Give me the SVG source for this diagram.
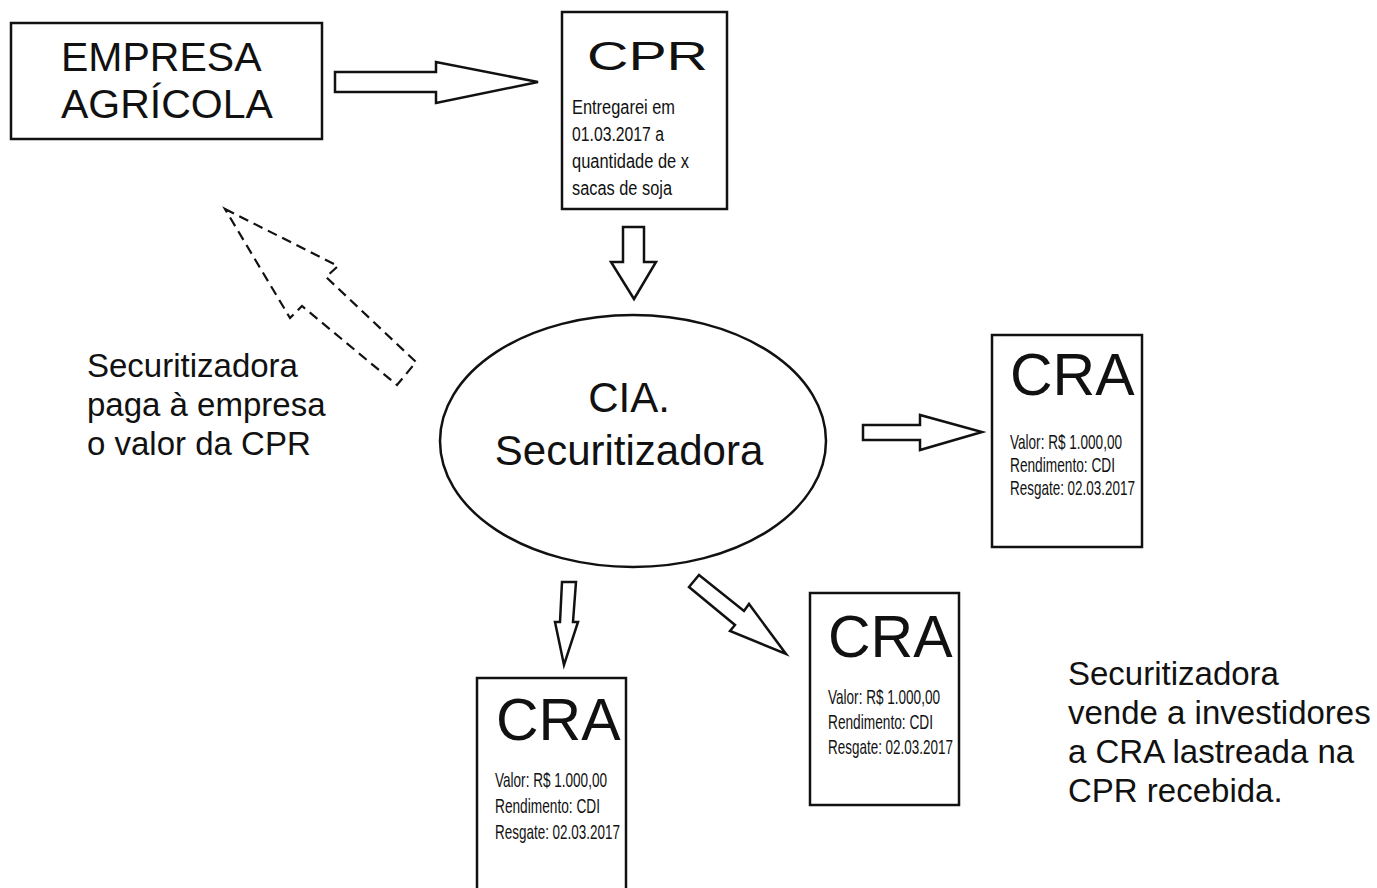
<svg xmlns="http://www.w3.org/2000/svg" width="1377" height="888" viewBox="0 0 1377 888">
  <style>
    .box { fill: #fff; stroke: #111; stroke-width: 2.5; }
    .arrow { fill: #fff; stroke: #111; stroke-width: 2.5; stroke-linejoin: miter; }
    .dashed { fill: none; stroke: #111; stroke-width: 2.2; stroke-dasharray: 10 6; }
    text { font-family: "Liberation Sans", Arial, sans-serif; fill: #111; }
    .big { font-size: 41px; }
    .cia { font-size: 42px; text-anchor: middle; }
    .note { font-size: 33px; }
    .cra { font-size: 59px; }
    .cpr { font-size: 40px; }
    .small { font-size: 21px; }
    .body { font-size: 20px; }
  </style>
  <rect width="1377" height="888" fill="#fff"/>

  <!-- connectors -->
  <g id="connectors">
    <polygon class="arrow" points="335,72 436,72 436,62 538,82 436,103 436,92 335,92"/>
    <polygon class="arrow" points="623,227 644,227 644,262 656,262 634,299 611,262 623,262"/>
    <polygon class="arrow" points="863,425 920,425 920,415 982,432 920,450 920,440 863,440"/>
    <polygon class="arrow" points="562,582 576,582 573,622 578,622 564,665 555,622 560,622"/>
    <polygon class="arrow" points="699,575 744,611 749,604 786,654 730,631 735,625 689,587"/>
    <polygon class="dashed" points="225,209 338,266 326,277 416,362 397,385 302,306 290,318"/>
  </g>

  <!-- farm company -->
  <g id="empresa">
    <rect class="box" x="11" y="23" width="311" height="116"/>
    <text class="big" x="61" y="71">EMPRESA</text>
    <text class="big" x="61" y="118">AGRÍCOLA</text>
  </g>

  <!-- CPR document -->
  <g id="cpr">
    <rect class="box" x="562" y="12" width="165" height="197"/>
    <text class="cpr" x="587" y="70" textLength="121" lengthAdjust="spacingAndGlyphs">CPR</text>
    <text class="body" x="572" y="114" textLength="103" lengthAdjust="spacingAndGlyphs">Entregarei em</text>
    <text class="body" x="572" y="141" textLength="92" lengthAdjust="spacingAndGlyphs">01.03.2017 a</text>
    <text class="body" x="572" y="168" textLength="117" lengthAdjust="spacingAndGlyphs">quantidade de x</text>
    <text class="body" x="572" y="195" textLength="100" lengthAdjust="spacingAndGlyphs">sacas de soja</text>
  </g>

  <!-- securitization company -->
  <g id="securitizadora">
    <ellipse class="box" cx="633" cy="441" rx="193" ry="126"/>
    <text class="cia" x="629" y="412">CIA.</text>
    <text class="cia" x="629" y="465">Securitizadora</text>
  </g>

  <!-- payment note -->
  <g id="nota-pagamento">
    <text class="note" x="87" y="377">Securitizadora</text>
    <text class="note" x="87" y="416">paga à empresa</text>
    <text class="note" x="87" y="455">o valor da CPR</text>
  </g>

  <!-- CRA right -->
  <g id="cra-direita">
    <rect class="box" x="992" y="335" width="150" height="212"/>
    <text class="cra" x="1010" y="395">CRA</text>
    <text class="small" x="1010" y="449" textLength="112" lengthAdjust="spacingAndGlyphs">Valor: R$ 1.000,00</text>
    <text class="small" x="1010" y="472" textLength="105" lengthAdjust="spacingAndGlyphs">Rendimento: CDI</text>
    <text class="small" x="1010" y="495" textLength="125" lengthAdjust="spacingAndGlyphs">Resgate: 02.03.2017</text>
  </g>

  <!-- CRA middle -->
  <g id="cra-meio">
    <rect class="box" x="810" y="593" width="149" height="212"/>
    <text class="cra" x="828" y="657">CRA</text>
    <text class="small" x="828" y="704" textLength="112" lengthAdjust="spacingAndGlyphs">Valor: R$ 1.000,00</text>
    <text class="small" x="828" y="729" textLength="105" lengthAdjust="spacingAndGlyphs">Rendimento: CDI</text>
    <text class="small" x="828" y="754" textLength="125" lengthAdjust="spacingAndGlyphs">Resgate: 02.03.2017</text>
  </g>

  <!-- CRA bottom left -->
  <g id="cra-esquerda">
    <rect class="box" x="477" y="678" width="149" height="230"/>
    <text class="cra" x="496" y="740">CRA</text>
    <text class="small" x="495" y="787" textLength="112" lengthAdjust="spacingAndGlyphs">Valor: R$ 1.000,00</text>
    <text class="small" x="495" y="813" textLength="105" lengthAdjust="spacingAndGlyphs">Rendimento: CDI</text>
    <text class="small" x="495" y="839" textLength="125" lengthAdjust="spacingAndGlyphs">Resgate: 02.03.2017</text>
  </g>

  <!-- sale note -->
  <g id="nota-venda">
    <text class="note" x="1068" y="685">Securitizadora</text>
    <text class="note" x="1068" y="724">vende a investidores</text>
    <text class="note" x="1068" y="763">a CRA lastreada na</text>
    <text class="note" x="1068" y="802">CPR recebida.</text>
  </g>
</svg>
